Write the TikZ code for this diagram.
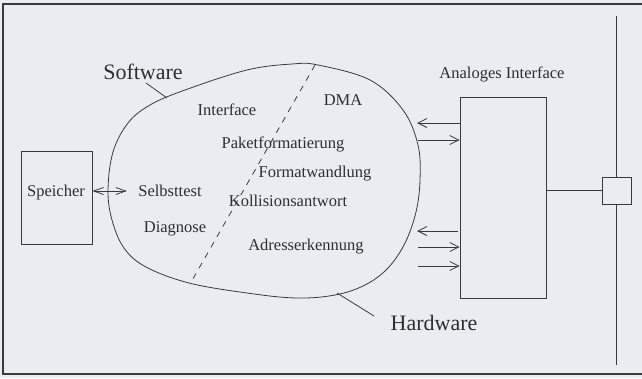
\documentclass[tikz,border=0pt]{standalone}
\usepackage{fontspec}
\setmainfont{Liberation Serif}
\usetikzlibrary{arrows.meta}

\definecolor{paper}{HTML}{E9EDF1}
\definecolor{ink}{HTML}{3A3A3A}
\definecolor{txt}{HTML}{2E2E2E}

\tikzset{
  lbl/.style={text=txt, inner sep=0pt, text depth=0pt, font=\fontsize{16.5}{18}\selectfont},
  biglbl/.style={lbl, font=\fontsize{22}{24}\selectfont},
  box/.style={draw=ink, line width=0.8pt, inner sep=0pt},
  barb/.style={ink, line width=0.8pt, -{Straight Barb[length=9pt,width=9pt]}},
}

\begin{document}
\begin{tikzpicture}[x=1pt, y=-1pt, line width=0.8pt, draw=ink]
  \fill[paper] (0,0) rectangle (642,378);
  \useasboundingbox (0,0) rectangle (642,378);
  \draw[line width=1.6pt, ink] (642,4) -- (3,4) -- (3,374) -- (642,374);

  % the card: software and hardware part
  \draw[ink] plot[smooth cycle, tension=0.6] coordinates {
    (292,64) (318,65) (370,80) (403,110) (418,145) (420,180) (416,212)
    (405,243) (388,268) (365,285) (335,295) (296,298) (247,293) (189,283)
    (146,267) (124,248) (112,220) (108,190) (113,152) (128,123) (150,105)
    (185,90) (247,70)};
  \draw[ink, dash pattern=on 6pt off 6pt] (315,65) -- (190,284);

  \node[biglbl] at (143,72) (sw) {Software};
  \coordinate (swa) at (146,83);
  \coordinate (swb) at (167,98);
  \draw[ink] (swa) -- (swb);
  \node[biglbl] at (434,323) (hw) {Hardware};
  \coordinate (hwa) at (337,293);
  \coordinate (hwb) at (374,316);
  \draw[ink] (hwa) -- (hwb);

  \node[lbl] at (227,110) (intf) {Interface};
  \node[lbl] at (343,100) (dma) {DMA};
  \node[lbl] at (283,143) (paket) {Paketformatierung};
  \node[lbl] at (315,172) (format) {Formatwandlung};
  \node[lbl] at (170,191) (selbst) {Selbsttest};
  \node[lbl] at (288,201) (koll) {Kollisionsantwort};
  \node[lbl] at (175,227) (diag) {Diagnose};
  \node[lbl] at (306,245) (adr) {Adresserkennung};

  % memory
  \node[box, minimum width=71pt, minimum height=93pt] at (56.5,197.5) (speicher) {};
  \node[lbl] at (56,191) (speichertxt) {Speicher};
  \coordinate (spin) at (127,191);
  \draw[ink, {Straight Barb[length=10pt,width=7pt]}-{Straight Barb[length=10pt,width=7pt]}]
    (speicher.east |- speichertxt) -- (spin);

  % analog interface and bus
  \node[box, minimum width=86pt, minimum height=201pt] at (503,197.5) (analog) {};
  \node[lbl] at (502,73) (analogtxt) {Analoges Interface};
  \node[box, minimum width=29pt, minimum height=27pt] at (616.5,190.5) (tap) {};
  \coordinate (bustop) at (616.5,16);
  \coordinate (busbot) at (616.5,365);
  \draw[ink] (bustop) -- (tap.north);
  \draw[ink] (tap.south) -- (busbot);
  \draw[ink] (analog.east |- tap) -- (tap.west);

  \coordinate (r1) at (417,123);
  \coordinate (r2) at (418,140);
  \coordinate (r3) at (417,231);
  \coordinate (r4) at (418,247);
  \coordinate (r5) at (418,266);
  \draw[barb] (analog.west |- r1) -- (r1);
  \draw[barb] (r2) -- (analog.west |- r2);
  \draw[barb] ([xshift=-2pt]analog.west |- r3) -- (r3);
  \draw[barb] (r4) -- (analog.west |- r4);
  \draw[barb] (r5) -- (analog.west |- r5);
\end{tikzpicture}
\end{document}
